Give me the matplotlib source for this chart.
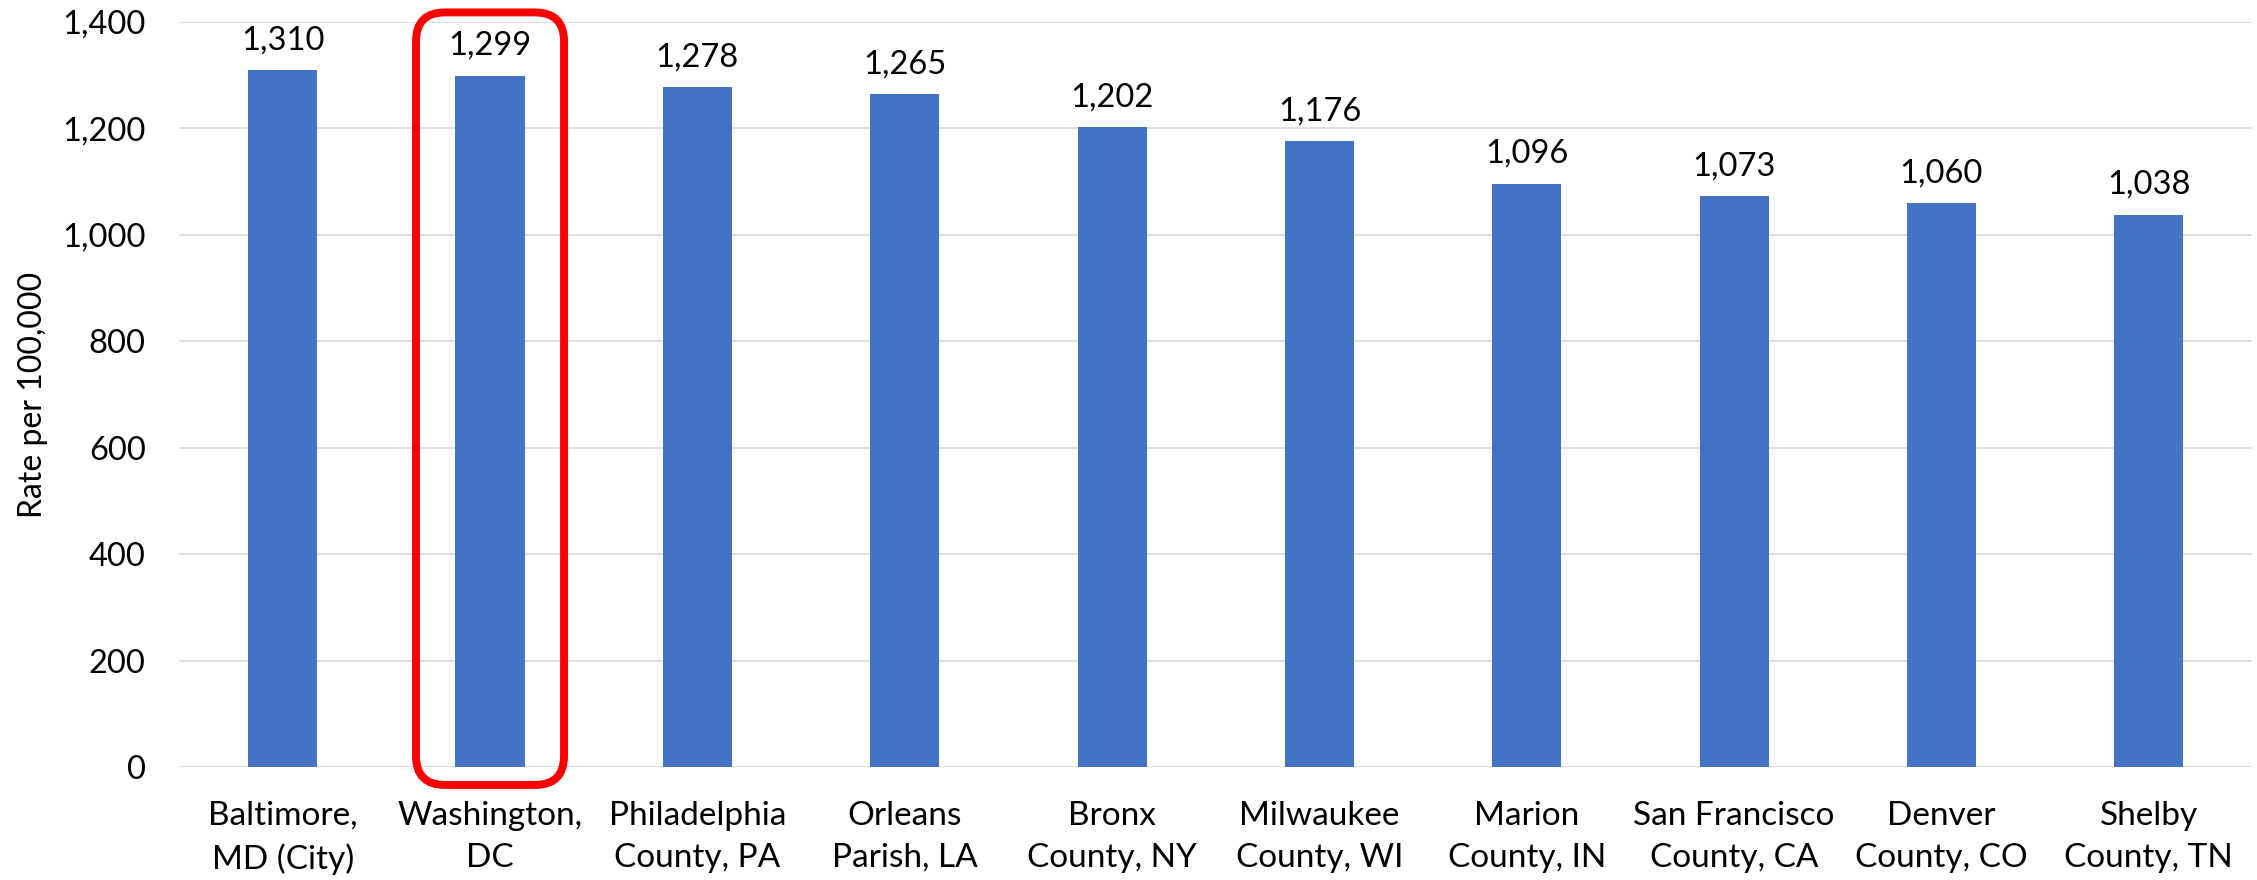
import numpy as np
import matplotlib
matplotlib.use('Agg')
import matplotlib.pyplot as plt
from matplotlib.patches import FancyBboxPatch

# Data
places = ['Baltimore,\nMD (City)', 'Washington,\nDC', 'Philadelphia\nCounty, PA',
          'Orleans\nParish, LA', 'Bronx\nCounty, NY', 'Milwaukee\nCounty, WI',
          'Marion\nCounty, IN', 'San Francisco\nCounty, CA', 'Denver\nCounty, CO',
          'Shelby\nCounty, TN']
rates = [1310, 1299, 1278, 1265, 1202, 1176, 1096, 1073, 1060, 1038]
yticks = [0, 200, 400, 600, 800, 1000, 1200, 1400]
highlight = 1  # Washington, DC

plt.rcParams['font.family'] = ['Lato', 'DejaVu Sans']
barColor = '#4472C4'
gridColor = '#D9D9D9'
numSize = 23.5
txtSize = 24

fig = plt.figure(figsize=(22.57, 8.8), dpi=100)
ax = fig.add_axes([0.0793, 0.128, 0.9187, 0.847])

x = np.arange(len(places))
ax.bar(x, rates, width=0.333, color=barColor, zorder=3)

for xi, v in zip(x, rates):
    ax.annotate(f'{v:,}', (xi, v), xytext=(0, 15), textcoords='offset points',
                ha='center', va='baseline', fontsize=numSize, color='black')

ax.set_xlim(-0.5, len(places) - 0.5)
ax.set_ylim(0, 1400)
ax.set_yticks(yticks)
ax.set_yticklabels([f'{t:,}' for t in yticks], fontsize=numSize)
ax.set_xticks(x)
ax.set_xticklabels(places, fontsize=txtSize, linespacing=1.5)
ax.tick_params(axis='both', length=0)
ax.tick_params(axis='y', pad=24)
ax.tick_params(axis='x', pad=24)
ax.yaxis.grid(True, color=gridColor, linewidth=1.2, zorder=0)
for s in ax.spines.values():
    s.set_visible(False)
ax.set_ylabel('Rate per 100,000', fontsize=23, labelpad=10)

# Red rounded box around the highlighted bar
bb = ax.get_window_extent()
pxPerX = bb.width / len(places)
pxPerY = bb.height / 1400
aspect = pxPerX / pxPerY
boxHalf = 0.357
box = FancyBboxPatch((highlight - boxHalf, -33), 2 * boxHalf, 1451,
                     boxstyle='round,pad=0,rounding_size=0.14',
                     mutation_aspect=aspect, fill=False, edgecolor='#FF0000',
                     linewidth=5.7, clip_on=False, zorder=5)
ax.add_patch(box)

plt.savefig('out.png', dpi=100)
plt.close()
